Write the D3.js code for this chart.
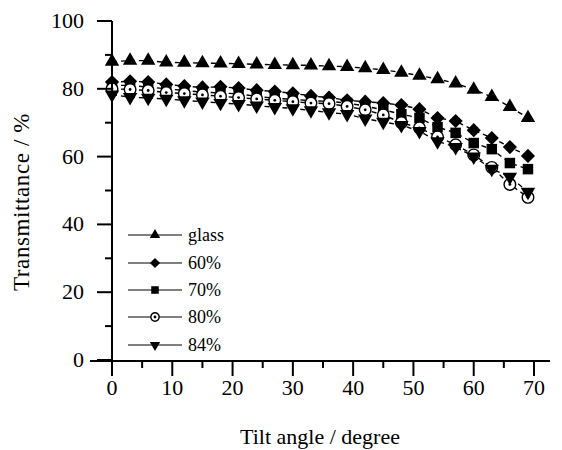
<!DOCTYPE html>
<html>
<head>
<meta charset="utf-8">
<script src="https://cdn.jsdelivr.net/npm/d3@7"></script>
<style>
  body { margin: 0; background: #fff; }
</style>
</head>
<body>
<div id="chart"></div>
<script>
const angles = [0, 3, 6, 9, 12, 15, 18, 21, 24, 27, 30, 33, 36, 39, 42, 45, 48, 51, 54, 57, 60, 63, 66, 69];
const glass = [88.0, 88.3, 88.3, 87.8, 87.7, 87.6, 87.5, 87.4, 87.2, 87.1, 87.0, 86.9, 86.7, 86.5, 86.1, 85.6, 84.8, 83.9, 82.9, 81.6, 79.8, 77.6, 74.7, 71.4];
const p60 = [82.0, 82.2, 82.0, 81.3, 80.8, 80.4, 80.6, 80.2, 79.6, 79.2, 78.7, 77.9, 77.4, 76.6, 76.2, 75.8, 75.2, 74.0, 71.4, 70.5, 67.8, 65.5, 62.8, 60.2];
const p70 = [81.0, 81.0, 80.5, 80.0, 79.5, 79.0, 78.8, 78.5, 77.8, 77.2, 76.9, 76.5, 76.3, 75.8, 74.9, 73.8, 72.5, 71.4, 68.7, 67.0, 64.0, 62.2, 58.1, 56.3];
const p80 = [80.0, 79.8, 79.5, 78.9, 78.6, 78.2, 77.8, 77.4, 77.0, 76.6, 76.2, 75.8, 75.6, 74.8, 73.8, 72.3, 70.0, 68.5, 65.8, 63.5, 60.5, 56.8, 51.8, 48.0];
const p84 = [78.3, 77.5, 77.3, 77.0, 76.6, 76.2, 75.8, 75.5, 75.0, 74.6, 74.2, 73.6, 73.0, 72.5, 71.2, 70.2, 69.3, 67.5, 64.5, 62.8, 60.0, 56.4, 54.0, 49.6];
const seriesNames = ["glass", "60%", "70%", "80%", "84%"];
const seriesValues = [glass, p60, p70, p80, p84];
const xTicks = [0, 10, 20, 30, 40, 50, 60, 70];
const yTicks = [0, 20, 40, 60, 80, 100];

const width = 562, height = 450;
const x = d3.scaleLinear().domain([0, 70]).range([112, 534]);
const y = d3.scaleLinear().domain([0, 100]).range([360, 21]);

const svg = d3.select("#chart").append("svg")
  .attr("width", width)
  .attr("height", height)
  .attr("font-family", "'Liberation Serif', 'Times New Roman', 'DejaVu Serif', serif")
  .attr("fill", "#000");

// marker drawing for each series
const drawMarker = (g, i, big) => {
  const k = big ? 1 : 0.72;
  if (i === 0) {
    g.append("path").attr("d", d3.symbol(d3.symbolTriangle, 90 * k * k)()).attr("fill", "#000");
  } else if (i === 1) {
    g.append("path").attr("d", d3.symbol(d3.symbolSquare, 100 * k * k)()).attr("transform", "rotate(45)").attr("fill", "#000");
  } else if (i === 2) {
    g.append("path").attr("d", d3.symbol(d3.symbolSquare, 110 * k * k)()).attr("fill", "#000");
  } else if (i === 3) {
    g.append("circle").attr("r", 5.8 * k).attr("fill", "#fff").attr("stroke", "#000").attr("stroke-width", 1.4);
    g.append("circle").attr("r", 1.4).attr("fill", "#000");
  } else {
    g.append("path").attr("d", d3.symbol(d3.symbolTriangle, 90 * k * k)()).attr("transform", "rotate(180)").attr("fill", "#000");
  }
};

const line = d3.line().x((d, j) => x(angles[j])).y(d => y(d));

seriesValues.forEach((vals, i) => {
  svg.append("path")
    .datum(vals)
    .attr("d", line)
    .attr("fill", "none")
    .attr("stroke", "#000")
    .attr("stroke-width", 1.4)
    .attr("stroke-dasharray", "5,4");
});

seriesValues.forEach((vals, i) => {
  vals.forEach((v, j) => {
    const g = svg.append("g").attr("transform", `translate(${x(angles[j])},${y(v)})`);
    drawMarker(g, i, true);
  });
});

// axes
const xAxis = svg.append("g").attr("transform", "translate(0,361)");
xAxis.append("line").attr("x1", 90).attr("x2", 550).attr("stroke", "#000").attr("stroke-width", 2);
d3.range(0, 71, 5).forEach(t => {
  xAxis.append("line")
    .attr("x1", x(t)).attr("x2", x(t))
    .attr("y1", 0).attr("y2", t % 10 === 0 ? 15 : 7)
    .attr("stroke", "#000").attr("stroke-width", 2);
});
xTicks.forEach(t => {
  xAxis.append("text")
    .attr("x", x(t)).attr("y", 34)
    .attr("text-anchor", "middle")
    .attr("font-size", 22)
    .text(t);
});

const yAxis = svg.append("g");
yAxis.append("line").attr("x1", 112).attr("x2", 112).attr("y1", y(100)).attr("y2", 362).attr("stroke", "#000").attr("stroke-width", 2);
d3.range(0, 101, 10).forEach(t => {
  yAxis.append("line")
    .attr("x1", t % 20 === 0 ? 97 : 105).attr("x2", 112)
    .attr("y1", y(t)).attr("y2", y(t))
    .attr("stroke", "#000").attr("stroke-width", 2);
});
yTicks.forEach(t => {
  yAxis.append("text")
    .attr("x", 84).attr("y", y(t) + 7)
    .attr("text-anchor", "end")
    .attr("font-size", 22)
    .text(t);
});

svg.append("text")
  .attr("x", 320).attr("y", 444)
  .attr("text-anchor", "middle")
  .attr("font-size", 22)
  .text("Tilt angle / degree");

svg.append("text")
  .attr("transform", "translate(29,202) rotate(-90)")
  .attr("text-anchor", "middle")
  .attr("font-size", 23)
  .attr("letter-spacing", 0.6)
  .text("Transmittance / %");

// legend
const legendY = [235, 263, 290, 317, 345];
seriesNames.forEach((name, i) => {
  const g = svg.append("g").attr("transform", `translate(0,${legendY[i]})`);
  g.append("line").attr("x1", 128).attr("x2", 182).attr("stroke", "#000").attr("stroke-width", 1.2);
  drawMarker(g.append("g").attr("transform", "translate(155,0)"), i, false);
  g.append("text")
    .attr("x", 188).attr("y", 6)
    .attr("font-size", 18)
    .text(name);
});
</script>
</body>
</html>
